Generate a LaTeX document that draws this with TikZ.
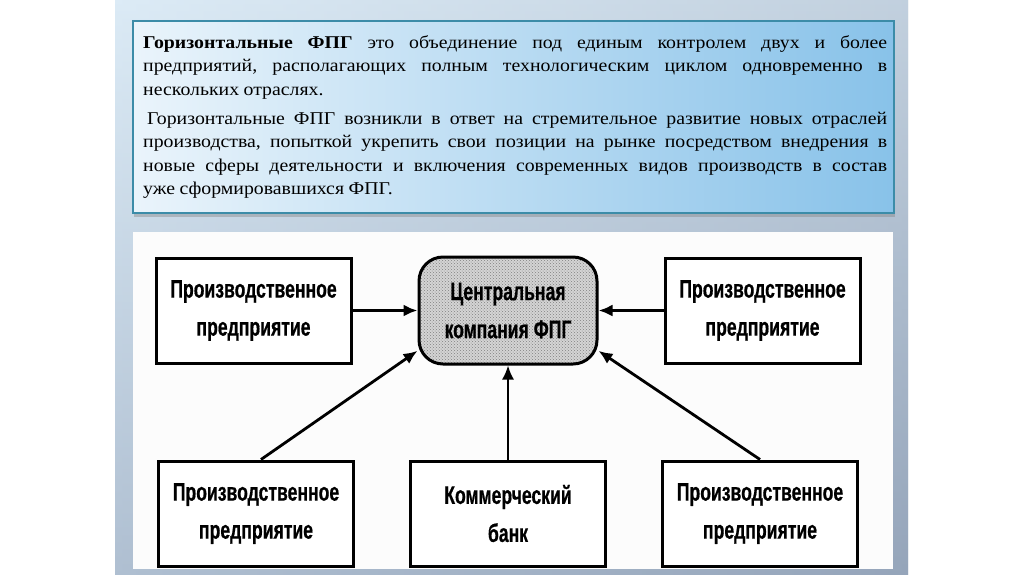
\documentclass[tikz,border=0pt]{standalone}
\usepackage{fontspec}
\setmainfont{Liberation Serif}[FakeStretch=1.1]
\newfontfamily\diagfont[FakeStretch=0.69,FakeBold=0.6]{Liberation Sans}
\usepackage{tikz}
\usetikzlibrary{arrows.meta,positioning,shadows,patterns}
\definecolor{slideL}{HTML}{DCEBF6}
\definecolor{slideR}{HTML}{A2B0C2}
\definecolor{slideB}{HTML}{8B9CB4}
\definecolor{defL}{HTML}{EAF4FB}
\definecolor{defR}{HTML}{88C2E9}
\definecolor{defedge}{HTML}{3C8CA8}
\definecolor{hubgray}{HTML}{D4D4D4}

\begin{document}
\begin{tikzpicture}[x=1pt, y=-1pt, node distance=94pt and 65pt, every node/.style={font=\diagfont\bfseries\fontsize{25.5}{38}\selectfont}, box/.style={draw,line width=3pt,fill=white,align=center,minimum width=195pt,minimum height=105pt,inner sep=0pt}, hub/.style={box,rounded corners=24pt,minimum width=178pt,minimum height=107pt,preaction={fill=hubgray},pattern=crosshatch dots,pattern color=black!50}, arrow/.style={-{Latex[length=14pt,width=12pt]},line width=2.8pt}, defn/.style={draw=defedge,line width=1.8pt,left color=defL,right color=defR,minimum width=761pt,minimum height=192pt,inner sep=0pt,drop shadow={shadow xshift=1pt,shadow yshift=-4pt,opacity=0.4}}]
% slide background
\useasboundingbox (0,0) rectangle (1024,574);
\fill[white] (0,0) rectangle (1024,574);
\shade[left color=slideL, right color=slideR] (115,0) rectangle (908,574);
\shade[top color=slideL, bottom color=slideB, fill opacity=0.55] (115,0) rectangle (908,574);
% definition text
\node[defn] (defin) at (513.5,117) {};
\node[anchor=north west,inner sep=0pt,text width=744pt,align=left,font=\fontsize{18}{23.4}\selectfont] (deftext) at (143,31.8) {\frenchspacing\spaceskip=0.25em plus 1fil\noindent\strut\makebox[744pt][s]{\textbf{Горизонтальные ФПГ} это объединение под единым контролем двух и более}\\
\makebox[744pt][s]{предприятий, располагающих полным технологическим циклом одновременно в}\\
\mbox{нескольких отраслях.}\\[6pt]
\makebox[744pt][s]{\hspace{4pt}Горизонтальные ФПГ возникли в ответ на стремительное развитие новых отраслей}\\
\makebox[744pt][s]{производства, попыткой укрепить свои позиции на рынке посредством внедрения в}\\
\makebox[744pt][s]{новые сферы деятельности и включения современных видов производств в состав}\\
\mbox{уже сформировавшихся ФПГ.}};
% diagram
\fill[white!99!black] (133,232) rectangle (893,569);
\node[hub] (centr) at (508,310.5) {Центральная\\компания ФПГ};
\node[box,left=of centr] (entL) {Производственное\\предприятие};
\node[box,right=of centr] (entR) {Производственное\\предприятие};
\node[box,below=of centr] (bank) {Коммерческий\\банк};
\node[box,left=54pt of bank] (entBL) {Производственное\\предприятие};
\node[box,right=54pt of bank] (entBR) {Производственное\\предприятие};
\draw[arrow] (entL)--(centr);
\draw[arrow] (entR)--(centr);
\draw[arrow,line width=2pt] (bank)--(centr);
\draw[arrow] ([xshift=5pt]entBL.north)--(centr.204);
\draw[arrow] (entBR.north)--(centr.336);
\end{tikzpicture}
\end{document}
